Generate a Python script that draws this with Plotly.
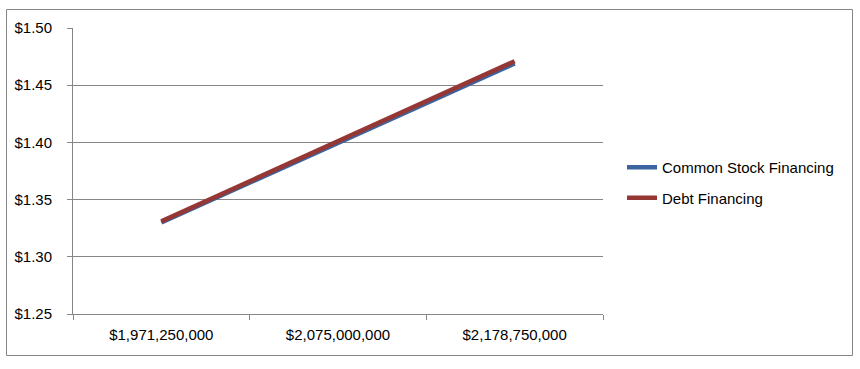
import plotly.graph_objects as go

categories = ["$1,971,250,000", "$2,075,000,000", "$2,178,750,000"]
common_stock = [1.330, 1.400, 1.469]
debt = [1.331, 1.401, 1.471]
series_names = ["Common Stock Financing", "Debt Financing"]
colors = ["#3B64A0", "#953735"]

W, H = 860, 369
L, R, T, B = 73, 603, 28, 314
pw, ph = R - L, B - T

fig = go.Figure()
fig.add_trace(go.Scatter(x=categories, y=common_stock, mode="lines", name=series_names[0],
                         legendgroup="a", line=dict(color=colors[0], width=4.5)))
fig.add_trace(go.Scatter(x=categories, y=debt, mode="lines", name=series_names[1],
                         legendgroup="b", line=dict(color=colors[1], width=4.5)))

def px(x):
    return (x - L) / pw

def py(y):
    return (B - y) / ph

fig.add_shape(type="rect", xref="paper", yref="paper",
              x0=px(6.5), x1=px(852.5), y0=py(355.5), y1=py(9.5),
              line=dict(color="#868686", width=1), fillcolor="rgba(0,0,0,0)", layer="below")

font = "Liberation Sans, Arial, sans-serif"
fig.update_layout(
    width=W, height=H,
    margin=dict(l=L, r=W - R, t=T, b=H - B, pad=0),
    paper_bgcolor="white", plot_bgcolor="white",
    font=dict(family=font, size=15, color="#000000"),
    showlegend=True,
    legend=dict(x=px(622), xanchor="left", y=py(182.5), yanchor="middle",
                font=dict(size=15), bgcolor="rgba(0,0,0,0)", itemwidth=30,
                traceorder="grouped", tracegroupgap=8),
    xaxis=dict(type="category", range=[-0.5, 2.5], showgrid=False,
               showline=True, linecolor="#868686", linewidth=1,
               ticks="outside", ticklen=5, tickcolor="#868686", tickson="boundaries",
               ticklabelstandoff=7, fixedrange=True),
    yaxis=dict(range=[1.25, 1.50], dtick=0.05, tick0=1.25, tickformat="$.2f",
               showgrid=True, gridcolor="#868686", gridwidth=1,
               showline=True, linecolor="#868686", linewidth=1,
               ticks="outside", ticklen=5, tickcolor="#868686",
               ticklabelstandoff=12, zeroline=False, fixedrange=True),
)
fig.write_html("out.html")
